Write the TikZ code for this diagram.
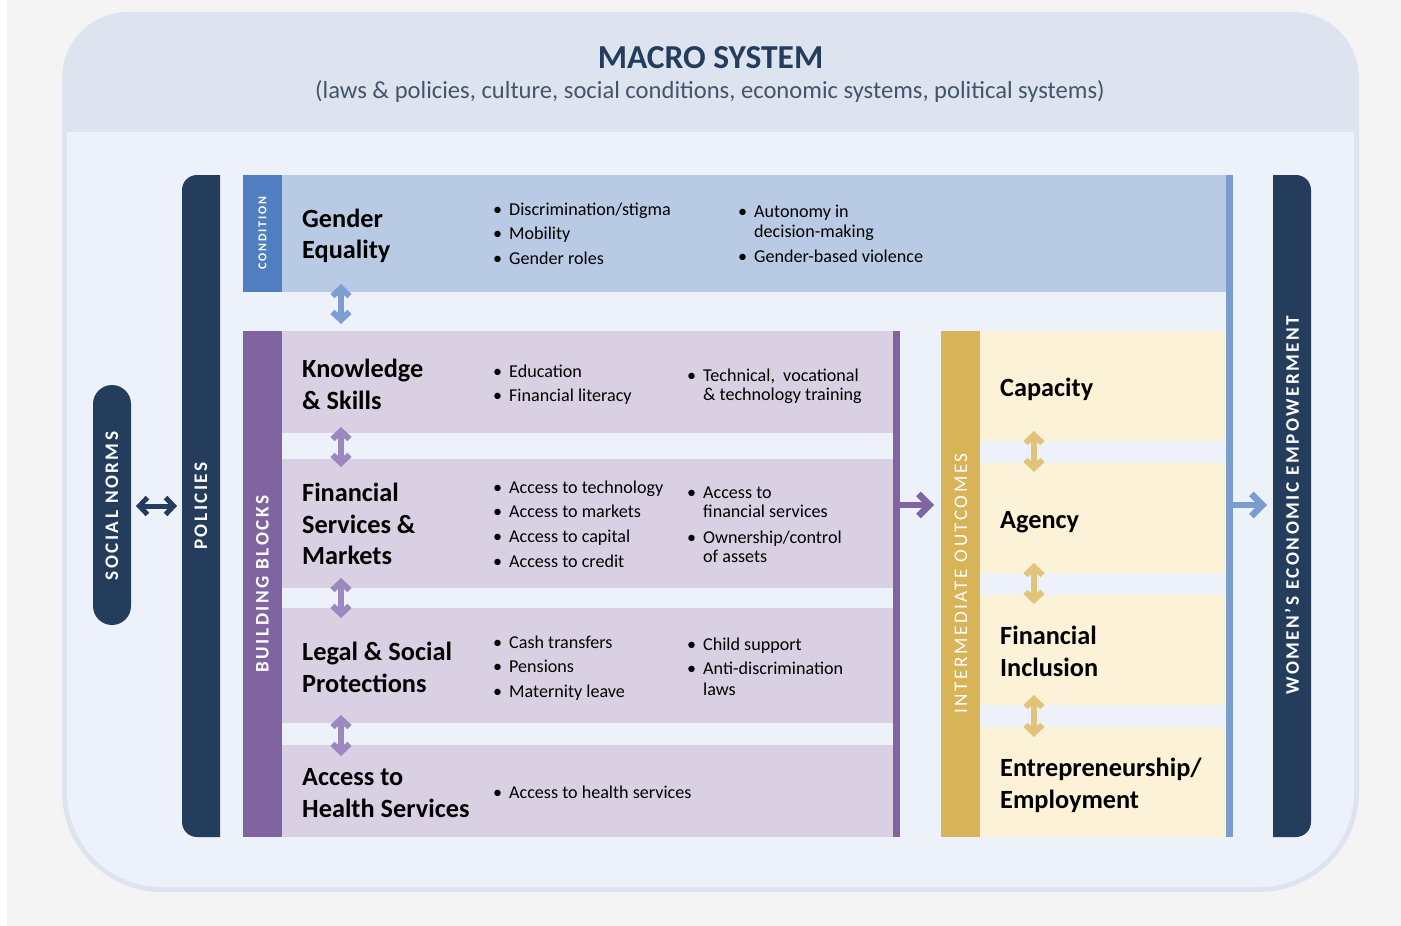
\documentclass[tikz,border=0pt]{standalone}
\usepackage{fontspec}
\setmainfont{Carlito}
\usetikzlibrary{arrows.meta}

\definecolor{pagegrey}{HTML}{F4F4F4}
\definecolor{frame}{HTML}{DDE4F0}
\definecolor{body}{HTML}{EDF2FA}
\definecolor{navy}{HTML}{243D5C}
\definecolor{subgrey}{HTML}{44546A}
\definecolor{condstrip}{HTML}{517EC0}
\definecolor{condfill}{HTML}{B9CBE4}
\definecolor{blueline}{HTML}{7A9DD0}
\definecolor{bluearrow}{HTML}{7C9ED2}
\definecolor{bbstrip}{HTML}{8064A2}
\definecolor{bbfill}{HTML}{D9D0E3}
\definecolor{bbarrow}{HTML}{9D87BF}
\definecolor{iostrip}{HTML}{D9B357}
\definecolor{iofill}{HTML}{FCF2D8}
\definecolor{ioarrow}{HTML}{E1C47A}

% bullet with a fixed indent, and the matching hanging indent
\newcommand\bl{\makebox[16pt][l]{\textbullet}}
\newcommand\hang{\hspace*{16pt}}
\newcommand\stack[1]{\begin{tabular}[t]{@{}l@{}}#1\end{tabular}}

\begin{document}
\begin{tikzpicture}[x=1pt,y=-1pt,
  head/.style={anchor=base west, inner sep=0pt, align=left,
    font=\fontsize{26.3}{31.5}\selectfont\bfseries},
  items/.style={anchor=base west, inner sep=0pt,
    font=\fontsize{18.1}{20.3}\selectfont},
  vlab/.style={rotate=90, text=white, inner sep=0pt,
    font=\fontsize{19.2}{21}\selectfont\bfseries\addfontfeature{LetterSpace=13}},
  dbl/.style={line width=6pt, >={Straight Barb[length=8pt,width=17pt]}, <->},
  bigarrow/.style={line width=6.5pt, -{Straight Barb[length=11pt,width=22pt]}},
]
\useasboundingbox (0,0) rectangle (1401,926);
\fill[white] (0,0) rectangle (1401,926);
\fill[pagegrey] (7,0) rectangle (1401,926);

% macro system frame and its lighter body
\fill[frame] (128,12) -- (1293,12) arc[start angle=-90,end angle=0,radius=66]
  -- (1359,792) arc[start angle=0,end angle=90,radius=100]
  -- (162,892) arc[start angle=90,end angle=180,radius=100]
  -- (62,78) arc[start angle=180,end angle=270,radius=66] -- cycle;
\fill[body] (67,132) -- (1354,132) -- (1354,792) arc[start angle=0,end angle=90,radius=95]
  -- (162,887) arc[start angle=90,end angle=180,radius=95] -- cycle;

\node[anchor=base, inner sep=0pt, text=navy, font=\fontsize{33.5}{36}\selectfont\bfseries]
  (macro) at (710.5,68) {MACRO SYSTEM};
\node[anchor=base, inner sep=0pt, text=subgrey, font=\fontsize{24.6}{28}\selectfont]
  (macrosub) at (710,98) {(laws \& policies, culture, social conditions, economic systems, political systems)};

% social norms pill
\fill[navy, rounded corners=19pt] (93,385) rectangle (131,625);
\node[vlab] (norms) at (112,506) {SOCIAL NORMS};

% policies bar
\fill[navy] (197,175) -- (220,175) -- (220,837) -- (197,837)
  arc[start angle=90,end angle=180,radius=15] -- (182,190)
  arc[start angle=180,end angle=270,radius=15] -- cycle;
\node[vlab] (policies) at (201,506) {POLICIES};

% women's economic empowerment bar
\fill[navy] (1273,175) -- (1296,175) arc[start angle=-90,end angle=0,radius=15]
  -- (1311,822) arc[start angle=0,end angle=90,radius=15] -- (1273,837) -- cycle;
\node[vlab] (wee) at (1292,505) {WOMEN’S ECONOMIC EMPOWERMENT};

% condition row
\fill[condstrip] (243,175) rectangle (282,292);
\fill[condfill] (282,175) rectangle (1226,292);
\fill[blueline] (1226,175) rectangle (1233,837);
\node[vlab, font=\fontsize{12}{14}\selectfont\bfseries\addfontfeature{LetterSpace=15}]
  (condlab) at (262.5,233) {CONDITION};
\node[head] (gender) at (302,227) {\stack{Gender\\Equality}};
\node[items] (gender1) at (493,215) {\stack{\bl Discrimination/stigma\\[4.5pt]\bl Mobility\\[4.5pt]\bl Gender roles}};
\node[items] (gender2) at (738,217) {\stack{\bl Autonomy in\\\hang decision-making\\[4.5pt]\bl Gender-based violence}};

% building blocks
\fill[bbstrip] (243,331) rectangle (282,837);
\fill[bbfill] (282,331) rectangle (893,433);
\fill[bbfill] (282,459) rectangle (893,588);
\fill[bbfill] (282,608) rectangle (893,723);
\fill[bbfill] (282,745) rectangle (893,837);
\fill[bbstrip] (893,331) rectangle (900,837);
\node[vlab] (bblab) at (262.5,584) {BUILDING BLOCKS};

\node[head] (skills) at (302,377.5) {\stack{Knowledge\\\& Skills}};
\node[items] (skills1) at (493,377) {\stack{\bl Education\\[4.5pt]\bl Financial literacy}};
\node[items] (skills2) at (687,381) {\stack{\bl Technical,~ vocational\\[-1pt]\hang\& technology training}};

\node[head] (finserv) at (302,501.5) {\stack{Financial\\Services \&\\Markets}};
\node[items] (finserv1) at (493,493) {\stack{\bl Access to technology\\[4.5pt]\bl Access to markets\\[4.5pt]\bl Access to capital\\[4.5pt]\bl Access to credit}};
\node[items] (finserv2) at (687,498) {\stack{\bl Access to\\[-1pt]\hang financial services\\[6pt]\bl Ownership/control\\[-1pt]\hang of assets}};

\node[head] (legal) at (302,660.5) {\stack{Legal \& Social\\Protections}};
\node[items] (legal1) at (493,648) {\stack{\bl Cash transfers\\[4.5pt]\bl Pensions\\[4.5pt]\bl Maternity leave}};
\node[items] (legal2) at (687,650) {\stack{\bl Child support\\[4.5pt]\bl Anti-discrimination\\\hang laws}};

\node[head] (health) at (302,785.5) {\stack{Access to\\Health Services}};
\node[items] (health1) at (493,798) {\bl Access to health services};

% intermediate outcomes
\fill[iostrip] (941,331) rectangle (980,837);
\fill[iofill] (980,331) rectangle (1226,441);
\fill[iofill] (980,463) rectangle (1226,573);
\fill[iofill] (980,595) rectangle (1226,705);
\fill[iofill] (980,727) rectangle (1226,837);
\node[vlab, font=\fontsize{19.2}{21}\selectfont\addfontfeature{LetterSpace=13}]
  (iolab) at (961,583.5) {INTERMEDIATE OUTCOMES};
\node[head] (capacity) at (1000,396.5) {Capacity};
\node[head] (agency) at (1000,528.5) {Agency};
\node[head] (inclusion) at (1000,644.5) {\stack{Financial\\Inclusion}};
\node[head] (employ) at (1000,776.5) {\stack{Entrepreneurship/\\Employment}};

% arrow end points
\coordinate (normsR) at (136,506);
\coordinate (policiesL) at (177,506);
\coordinate (condB) at (341,284);
\coordinate (skillsT) at (341,324);
\coordinate (skillsB) at (341,427);
\coordinate (finservT) at (341,467);
\coordinate (finservB) at (341,578);
\coordinate (legalT) at (341,618);
\coordinate (legalB) at (341,715);
\coordinate (healthT) at (341,756);
\coordinate (capB) at (1034,431);
\coordinate (agT) at (1034,472);
\coordinate (agB) at (1034,563);
\coordinate (incT) at (1034,604);
\coordinate (incB) at (1034,695);
\coordinate (empT) at (1034,737);
\coordinate (bbR) at (900,505);
\coordinate (ioL) at (934,505);
\coordinate (outR) at (1233,505);
\coordinate (weeL) at (1267,505);

\draw[dbl, navy, line width=5pt] (normsR) -- (policiesL);
\draw[dbl, bluearrow] (condB) -- (skillsT);
\draw[dbl, bbarrow] (skillsB) -- (finservT);
\draw[dbl, bbarrow] (finservB) -- (legalT);
\draw[dbl, bbarrow] (legalB) -- (healthT);
\draw[dbl, ioarrow] (capB) -- (agT);
\draw[dbl, ioarrow] (agB) -- (incT);
\draw[dbl, ioarrow] (incB) -- (empT);
\draw[bigarrow, bbstrip] (bbR) -- (ioL);
\draw[bigarrow, blueline] (outR) -- (weeL);
\end{tikzpicture}
\end{document}
